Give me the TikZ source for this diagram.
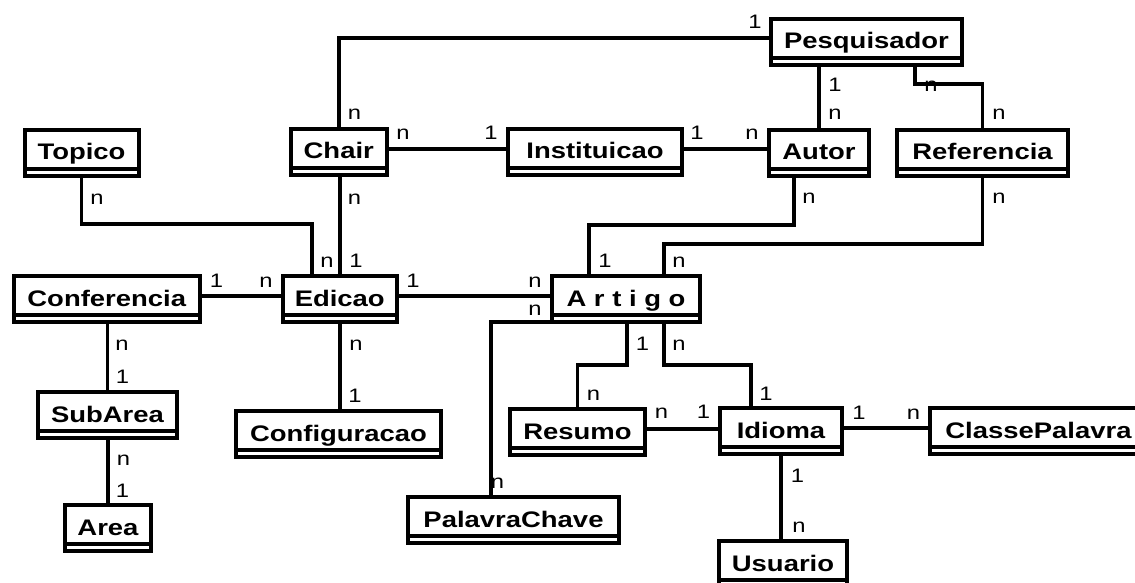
\documentclass[tikz,border=0pt]{standalone}
\usepackage{fontspec}
\newfontfamily\erfont{Liberation Sans}[FakeStretch=1.22]
\begin{document}
\begin{tikzpicture}[x=1pt,y=-1pt,
  entity/.style={draw, line width=4pt, anchor=north west, inner sep=0pt, outer sep=0pt,
    minimum height=46pt, text height=16pt, text depth=2pt,
    font=\erfont\bfseries\fontsize{22.5}{24}\selectfont,
    path picture={\draw[line width=4pt]
      ([yshift=7pt]path picture bounding box.south west) --
      ([yshift=7pt]path picture bounding box.south east);}},
  card/.style={anchor=base, inner sep=0pt, font=\erfont\fontsize{19.5}{21}\selectfont},
  link/.style={draw, line width=3.8pt}]
\useasboundingbox (0,0) rectangle (1135,583);
\fill[white] (0,0) rectangle (1135,583);
\clip (0,0) rectangle (1135,583);

% cardinalities
\node[card] (k1)  at (755,29)    {1};
\node[card] (k2)  at (354.5,120) {n};
\node[card] (k3)  at (403,140)   {n};
\node[card] (k4)  at (491,140)   {1};
\node[card] (k5)  at (697,140)   {1};
\node[card] (k6)  at (752,140)   {n};
\node[card] (k7)  at (835,92)    {1};
\node[card] (k8)  at (835,120)   {n};
\node[card] (k9)  at (931,92)    {n};
\node[card] (k10) at (999,120)   {n};
\node[card] (k11) at (97,204)    {n};
\node[card] (k12) at (354.5,204) {n};
\node[card] (k13) at (809,203)   {n};
\node[card] (k14) at (999,203)   {n};
\node[card] (k15) at (327,267)   {n};
\node[card] (k16) at (356,267)   {1};
\node[card] (k17) at (605,267)   {1};
\node[card] (k18) at (679,267)   {n};
\node[card] (k19) at (216.5,287) {1};
\node[card] (k20) at (266,287)   {n};
\node[card] (k21) at (413,287)   {1};
\node[card] (k22) at (535,287)   {n};
\node[card] (k23) at (535,315)   {n};
\node[card] (k24) at (122,350)   {n};
\node[card] (k25) at (122.5,383) {1};
\node[card] (k26) at (642.5,350) {1};
\node[card] (k27) at (679,350)   {n};
\node[card] (k28) at (356,350)   {n};
\node[card] (k29) at (355,402)   {1};
\node[card] (k30) at (593.5,400) {n};
\node[card] (k31) at (766,400)   {1};
\node[card] (k32) at (661.5,418) {n};
\node[card] (k33) at (703.5,418) {1};
\node[card] (k34) at (859,419)   {1};
\node[card] (k35) at (913.5,419) {n};
\node[card] (k36) at (123.5,465) {n};
\node[card] (k37) at (122.5,497) {1};
\node[card] (k38) at (797.5,482) {1};
\node[card] (k39) at (799,532)   {n};
\node[card] (k40) at (497.5,488) {n};

% entities
\node[entity, minimum width=191pt]   (pesq)    at (771,19)   {Pesquisador};
\node[entity, minimum width=96.5pt]  (chair)   at (290.5,129) {Chair};
\node[entity, minimum width=174pt]   (inst)    at (508,129)  {Instituicao};
\node[entity, minimum width=100pt]   (autor)   at (769,130)  {Autor};
\node[entity, minimum width=171pt]   (ref)     at (897,130)  {Referencia};
\node[entity, minimum width=114pt]   (topico)  at (24.5,130) {Topico};
\node[entity, minimum width=185.5pt] (conf)    at (14,276)   {Conferencia};
\node[entity, minimum width=113.5pt] (edicao)  at (283,276)  {Edicao};
\node[entity, minimum width=148pt]   (artigo)  at (552,276)  {A r t i g o};
\node[entity, minimum width=139pt]   (subarea) at (38,392)   {SubArea};
\node[entity, minimum width=86pt]    (area)    at (65,505)   {Area};
\node[entity, minimum width=205pt]   (config)  at (236,411)  {Configuracao};
\node[entity, minimum width=135pt]   (resumo)  at (510,409)  {Resumo};
\node[entity, minimum width=211pt]   (palavra) at (408,497)  {PalavraChave};
\node[entity, minimum width=122pt]   (idioma)  at (720,408)  {Idioma};
\node[entity, minimum width=217pt]   (classe)  at (930,408)  {ClassePalavra};
\node[entity, minimum width=128pt]   (usuario) at (719,541)  {Usuario};

% relationships
\path[link] (pesq.west |- 0,38) -| (chair.north);
\path[link] (chair.east |- 0,149) -- (inst.west |- 0,149);
\path[link] (inst.east |- 0,149) -- (autor.west |- 0,149);
\path[link] (autor.north |- pesq.south) -- (autor.north);
\path[link] (pesq.south -| 915,0) |- (ref.north |- 0,84) -- (ref.north);
\path[link] (topico.south) |- (312,224) -- (edicao.north -| 312,0);
\path[link] (edicao.north |- chair.south) -- (edicao.north);
\path[link] (conf.east |- 0,296) -- (edicao.west |- 0,296);
\path[link] (edicao.east |- 0,296) -- (artigo.west |- 0,296);
\path[link] (subarea.north |- conf.south) -- (subarea.north);
\path[link] (area.north |- subarea.south) -- (area.north);
\path[link] (edicao.south) -- (config.north -| edicao.south);
\path[link] (autor.south -| 794,0) |- (589,225) -- (artigo.north -| 589,0);
\path[link] (ref.south) |- (664,244) -- (artigo.north -| 664,0);
\path[link] (artigo.south west) -| (palavra.north -| 491,0);
\path[link] (artigo.south -| 627,0) |- (resumo.north |- 0,365) -- (resumo.north);
\path[link] (artigo.south -| 664,0) |- (751,365) -- (idioma.north -| 751,0);
\path[link] (resumo.east |- 0,429) -- (idioma.west |- 0,429);
\path[link] (idioma.east |- 0,428) -- (classe.west |- 0,428);
\path[link] (idioma.south) -- (usuario.north -| idioma.south);
\end{tikzpicture}
\end{document}
